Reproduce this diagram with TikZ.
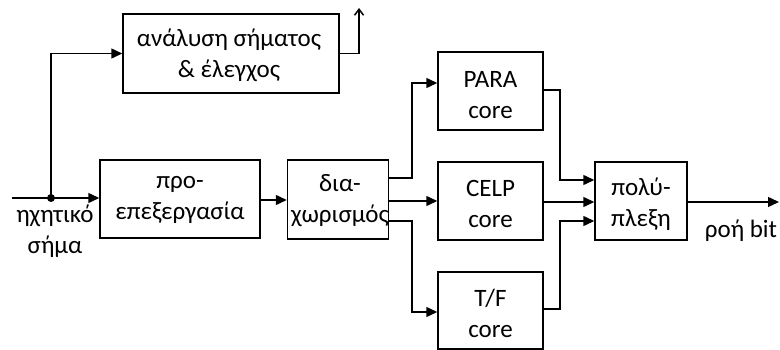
\documentclass[tikz,border=0pt]{standalone}
\usepackage{fontspec}
\setmainfont{Carlito}
\usetikzlibrary{arrows.meta,calc}
\begin{document}
\begin{tikzpicture}[x=1pt,y=-1pt,
  line width=1.5pt,
  blk/.style={draw,line width=1.5pt,rectangle,inner sep=0pt},
  lbl/.style={font=\fontsize{25}{31}\selectfont,align=center,inner sep=0pt},
  conn/.style={-{Triangle[length=11pt,width=10pt]}},
  outarr/.style={-{Straight Barb[length=6pt,width=9pt]}}]
\useasboundingbox (0,0) rectangle (780,350);

% blocks
\node[blk,minimum width=216pt,minimum height=79pt] (ana) at (231,53.5) {};
\node[blk,minimum width=160pt,minimum height=78pt] (pre) at (180,199) {};
\node[blk,minimum width=101pt,minimum height=79pt] (dia) at (338,199.5) {};
\node[blk,minimum width=105pt,minimum height=78pt] (para) at (490.5,91) {};
\node[blk,minimum width=105pt,minimum height=78pt] (celp) at (490.5,201) {};
\node[blk,minimum width=105pt,minimum height=77pt] (tf) at (490.5,310.5) {};
\node[blk,minimum width=92pt,minimum height=78pt] (mux) at (641,201) {};

% block texts
\node[lbl] (anat) at ($(ana)+(-2,2)$) {ανάλυση σήματος\\\& έλεγχος};
\node[lbl] (pret) at ($(pre)+(0,1)$) {προ-\\επεξεργασία};
\node[lbl] (diat) at ($(dia)+(2,1)$) {δια-\\χωρισμός};
\node[lbl] (parat) at ($(para)+(0,4)$) {PARA\\core};
\node[lbl] (celpt) at ($(celp)+(0,3)$) {CELP\\core};
\node[lbl] (tft) at ($(tf)+(0,3)$) {T/F\\core};
\node[lbl] (muxt) at ($(mux)+(0,3)$) {πολύ-\\πλεξη};

% free ends and bends
\coordinate (in) at (12,198);
\coordinate (jn) at (51,198);
\coordinate (up) at (359,8);
\coordinate (out) at (779,202);
\coordinate (sx) at (412,0);
\coordinate (mx) at (560,0);

% input and side branch
\draw (in) -- (jn);
\draw[conn] (jn) -- (pre.west |- jn);
\fill (jn) circle (4pt);
\draw[conn] (jn) |- (ana.west);
\draw[outarr] (ana.east) -| (up);

\node[lbl,anchor=north] (inl) at (55,204) {ηχητικό\\σήμα};

% main chain
\draw[conn] (pre.east |- 0,200) -- (dia.west |- 0,200);
\draw[conn] (dia.east |- 0,178) -| (sx |- 0,130) |- (para.west |- 0,83);
\draw[conn] (dia.east |- 0,201) -- (celp.west |- 0,201);
\draw[conn] (dia.east |- 0,221) -| (sx |- 0,260) |- (tf.west |- 0,312);

\draw[conn] (para.east |- 0,90) -| (mx |- 0,130) |- (mux.west |- 0,180);
\draw[conn] (celp.east |- 0,202) -- (mux.west |- 0,202);
\draw[conn] (tf.east |- 0,309) -| (mx |- 0,260) |- (mux.west |- 0,221);

\draw[conn] (mux.east |- out) -- (out);
\node[lbl,anchor=north] (bitl) at (741,219) {ροή bit};
\end{tikzpicture}
\end{document}
